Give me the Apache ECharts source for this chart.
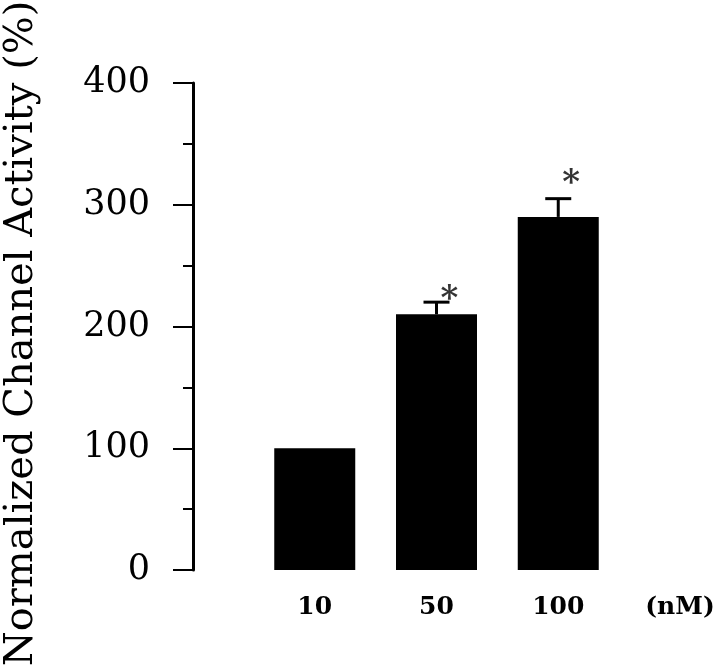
<!DOCTYPE html>
<html>
<head>
<meta charset="utf-8">
<script src="https://cdn.jsdelivr.net/npm/echarts@6/dist/echarts.min.js"></script>
<style>
html, body { margin: 0; padding: 0; background: #fff; }
#main { width: 720px; height: 669px; }
</style>
</head>
<body>
<div id="main"></div>
<script>
// 数据
var categories = ['', '10', '50', '100', '(nM)'];
var activity = [null, 100, 210, 290, null];
var errorTop = [null, null, 220, 305, null];
var starY = [null, null, 222, 317, null];
var yTicks = [0, 100, 200, 300, 400];

var myChart = echarts.init(document.getElementById('main'));

var errData = [];
var starData = [];
for (var i = 0; i < categories.length; i++) {
	if (errorTop[i] != null) errData.push([i, activity[i], errorTop[i]]);
	if (starY[i] != null) starData.push([i, starY[i]]);
}

var option = {
	animation: false,
	grid: {
		left: 193,
		right: 40,
		top: 83,
		bottom: 99,
		outerBoundsMode: 'none'
	},
	xAxis: {
		type: 'category',
		data: categories,
		boundaryGap: false,
		axisLine: { show: false },
		axisTick: { show: false },
		axisLabel: {
			margin: 25,
			interval: 0,
			color: '#000',
			fontFamily: 'DejaVu Serif',
			fontWeight: 'bold',
			fontSize: 25
		}
	},
	yAxis: {
		type: 'value',
		min: yTicks[0],
		max: yTicks[yTicks.length - 1],
		interval: 100,
		name: 'Normalized Channel Activity (%)',
		nameLocation: 'middle',
		nameGap: 151,
		nameTextStyle: {
			color: '#000',
			fontFamily: 'DejaVu Serif',
			fontSize: 40,
			padding: [0, 14, 0, 0]
		},
		axisLine: { show: true, lineStyle: { color: '#000', width: 3 } },
		axisTick: { show: true, length: 20, lineStyle: { color: '#000', width: 2 } },
		minorTick: { show: true, splitNumber: 2, length: 10, lineStyle: { color: '#000', width: 2 } },
		splitLine: { show: false },
		axisLabel: {
			margin: 43,
			color: '#000',
			fontFamily: 'DejaVu Serif',
			fontSize: 35
		}
	},
	series: [{
		type: 'bar',
		data: activity,
		barWidth: 81,
		itemStyle: { color: '#000' }
	}, {
		type: 'custom',
		data: errData,
		renderItem: function(params, api) {
			var base = api.coord([api.value(0), api.value(1)]);
			var top = api.coord([api.value(0), api.value(2)]);
			return {
				type: 'group',
				children: [{
					type: 'line',
					shape: { x1: base[0], y1: base[1], x2: top[0], y2: top[1] },
					style: { stroke: '#000', lineWidth: 3 }
				}, {
					type: 'line',
					shape: { x1: top[0] - 13, y1: top[1], x2: top[0] + 13, y2: top[1] },
					style: { stroke: '#000', lineWidth: 3 }
				}]
			};
		}
	}, {
		type: 'scatter',
		data: starData,
		symbolSize: 0,
		label: {
			show: true,
			formatter: '*',
			position: 'inside',
			offset: [13, 0],
			color: '#000',
			fontFamily: 'DejaVu Serif',
			fontWeight: 'bold',
			fontSize: 34
		}
	}]
};
myChart.setOption(option);
</script>
</body>
</html>
